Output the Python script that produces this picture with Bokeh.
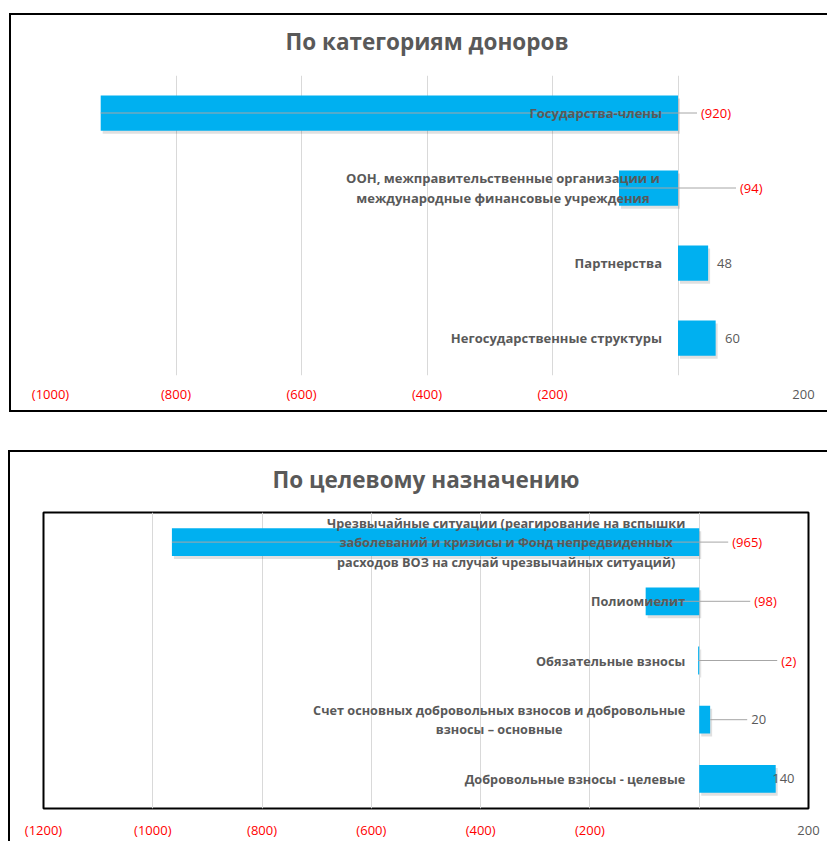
from bokeh.plotting import figure
from bokeh.models import (FactorRange, Range1d, FixedTicker, CustomJSTickFormatter,
                          LinearAxis, ColumnDataSource)
from bokeh.core.properties import value
from bokeh.embed import file_html
from bokeh.resources import INLINE

# ---------------- data ----------------
donor_title = "По категориям доноров"
donor_categories = [
    "Государства-члены",
    "ООН, межправительственные организации и\nмеждународные финансовые учреждения",
    "Партнерства",
    "Негосударственные структуры",
]
donor_values = [-920, -94, 48, 60]
donor_ticks = [-1000, -800, -600, -400, -200, 0, 200]

purpose_title = "По целевому назначению"
purpose_categories = [
    "Чрезвычайные ситуации (реагирование на вспышки\nзаболеваний и кризисы и Фонд непредвиденных\nрасходов ВОЗ на случай чрезвычайных ситуаций)",
    "Полиомиелит",
    "Обязательные взносы",
    "Счет основных добровольных взносов и добровольные\nвзносы – основные",
    "Добровольные взносы - целевые",
]
purpose_values = [-965, -98, -2, 20, 140]
purpose_ticks = [-1200, -1000, -800, -600, -400, -200, 0, 200]

# ---------------- styles / layout ----------------
FONT = "Open Sans"
BAR = "#00B0F0"
GREY = "#595959"
RED = "#FF0000"
LINE = "linear-gradient(#000,#000) %dpx %dpx / %dpx %dpx no-repeat"

top_style = dict(w=827, h=440, fl=50, fr=803, ft=75, fb=375,
                 border=", ".join([LINE % (9, 13, 818, 2), LINE % (9, 410, 818, 2),
                                   LINE % (9, 13, 2, 399)]),
                 outline=None, standoff=9, title_standoff=37,
                 gap=16, cat_font="13px", multi_center={1: -175},
                 value_px=[23, 62, 39, 47], leader=[True, True, False, False])
bot_style = dict(w=827, h=401, fl=43, fr=808, ft=72, fb=370,
                 border=", ".join([LINE % (8, 10, 819, 2), LINE % (8, 10, 2, 391)]),
                 outline="black", standoff=12, title_standoff=35,
                 gap=14, cat_font="12.7px", multi_center={0: -193, 3: -200},
                 value_px=[33, 55, 82, 52, 73], leader=[True, True, True, True, False])


def fmt(v):
    return "(%d)" % (-v) if v < 0 else "%d" % v


def style_axis(ax, ticks, color, standoff, code):
    ax.ticker = FixedTicker(ticks=ticks)
    ax.formatter = CustomJSTickFormatter(code=code)
    ax.axis_line_color = None
    ax.major_tick_line_color = None
    ax.minor_tick_line_color = None
    ax.major_tick_out = 0
    ax.major_tick_in = 0
    ax.minor_tick_out = 0
    ax.major_label_standoff = standoff
    ax.major_label_text_color = color
    ax.major_label_text_font = FONT
    ax.major_label_text_font_size = "13px"


def build(title, cats, vals, ticks, s):
    lo, hi = ticks[0], ticks[-1]
    px_per_unit = (s["fr"] - s["fl"]) / (hi - lo)
    band_px = (s["fb"] - s["ft"]) / len(cats)
    p = figure(width=s["w"], height=s["h"], title=title,
               x_range=Range1d(lo, hi),
               y_range=FactorRange(factors=list(reversed(cats))),
               output_backend="svg", toolbar_location=None,
               min_border_left=s["fl"], min_border_right=s["w"] - s["fr"],
               min_border_top=s["ft"], min_border_bottom=s["h"] - s["fb"])
    # chart-area border lines are drawn as CSS background behind a transparent canvas
    p.styles = {"background": s["border"]}
    p.background_fill_color = "white"
    p.border_fill_color = None
    p.outline_line_color = s["outline"]
    p.outline_line_width = 2

    p.title.align = "center"
    p.title.text_font = FONT
    p.title.text_font_style = "bold"
    p.title.text_font_size = "22.5px"
    p.title.text_color = GREY
    p.title.standoff = s["title_standoff"]

    p.yaxis.visible = False
    p.ygrid.visible = False
    p.xgrid.grid_line_color = "#D9D9D9"
    p.xgrid.grid_line_width = 1

    # negative tick labels in red (accounting style), positive ones in grey
    neg_ticks = [t for t in ticks if t < 0]
    pos_ticks = [t for t in ticks if t >= 0]
    style_axis(p.xaxis[0], neg_ticks, RED, s["standoff"],
               'return "(" + (-tick) + ")";')
    ax2 = LinearAxis()
    style_axis(ax2, pos_ticks, GREY, -16,
               'return tick > 0 ? String(tick) : "";')
    p.add_layout(ax2, "below")
    p.xgrid.ticker = FixedTicker(ticks=ticks)

    # bars with a soft drop shadow
    dx = 2 / px_per_unit
    dy = 3 / band_px
    shadow_src = ColumnDataSource(dict(cat=[(c, -dy) for c in cats],
                                       l=[dx] * len(vals),
                                       r=[v + dx for v in vals]))
    p.hbar(y="cat", left="l", right="r", height=0.47, source=shadow_src,
           fill_color="black", fill_alpha=0.12, line_color=None)
    src = ColumnDataSource(dict(cat=cats, val=vals))
    p.hbar(y="cat", left=0, right="val", height=0.47, source=src,
           fill_color=BAR, line_color=None)

    # leader lines
    lx0, lx1, ly = [], [], []
    for i, c in enumerate(cats):
        if s["leader"][i]:
            lx0.append(vals[i])
            lx1.append((s["value_px"][i] - 4) / px_per_unit)
            ly.append(c)
    p.segment(x0=lx0, y0=ly, x1=lx1, y1=ly, line_color="#A6A6A6", line_width=1)

    # category labels
    single = [c for c in cats if "\n" not in c]
    p.text(x=[0] * len(single), y=single, text=single, x_offset=-s["gap"],
           text_align="right", text_baseline="middle", text_font=value(FONT),
           text_font_style="bold", text_font_size=s["cat_font"], text_color=GREY)
    for i, off in s["multi_center"].items():
        p.text(x=[0], y=[cats[i]], text=[cats[i]], x_offset=off,
               text_align="center", text_baseline="middle", text_font=value(FONT),
               text_font_style="bold", text_font_size=s["cat_font"], text_color=GREY,
               text_line_height=1.08)

    # value labels
    vtext = [fmt(v) for v in vals]
    vcol = [RED if v < 0 else GREY for v in vals]
    vsrc = ColumnDataSource(dict(cat=cats, t=vtext, c=vcol, off=s["value_px"],
                                 x=[0] * len(cats)))
    p.text(x="x", y="cat", text="t", x_offset="off", text_color="c", source=vsrc,
           text_align="left", text_baseline="middle", text_font=value(FONT),
           text_font_size="13px")
    return p


p1 = build(donor_title, donor_categories, donor_values, donor_ticks, top_style)
p2 = build(purpose_title, purpose_categories, purpose_values, purpose_ticks, bot_style)

open("out.html", "w").write(file_html([p1, p2], INLINE))
